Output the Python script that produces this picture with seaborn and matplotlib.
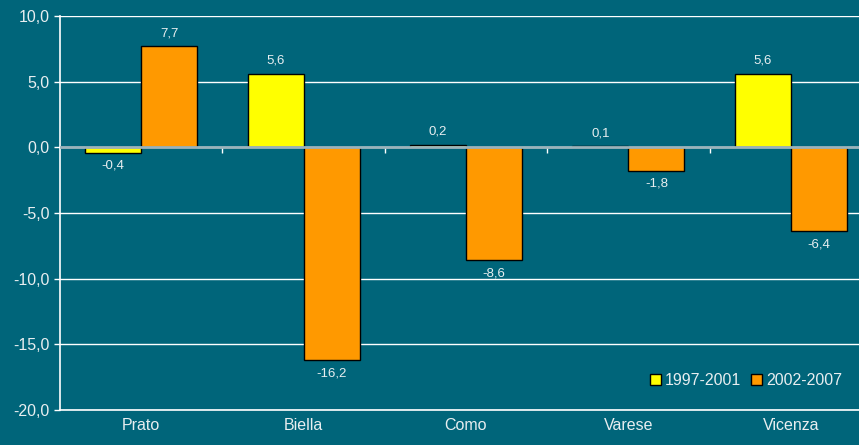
import pandas as pd
import matplotlib.pyplot as plt
import seaborn as sns

# data
cities = ['Prato', 'Biella', 'Como', 'Varese', 'Vicenza']
periods = ['1997-2001', '2002-2007']
vals_9701 = [-0.4, 5.6, 0.2, 0.1, 5.6]
vals_0207 = [7.7, -16.2, -8.6, -1.8, -6.4]
y_ticks = [-20, -15, -10, -5, 0, 5, 10]

bg = '#00657a'
txt = '#e8eef0'

df = pd.DataFrame({
    'Città': cities * 2,
    'Periodo': [periods[0]] * len(cities) + [periods[1]] * len(cities),
    'Valore': vals_9701 + vals_0207,
})

sns.set_theme(style='white')
plt.rcParams['font.family'] = ['Liberation Sans', 'DejaVu Sans']

fig = plt.figure(figsize=(8.59, 4.45), dpi=100, facecolor=bg)
# l'area del grafico prosegue oltre il bordo destro
ax = fig.add_axes([0.0698, 0.0787, 0.9453, 0.8853])
ax.set_facecolor(bg)

sns.barplot(
    data=df, x='Città', y='Valore', hue='Periodo',
    palette=['#ffff00', '#ff9900'], saturation=1,
    width=0.69, gap=0, edgecolor='black', linewidth=1,
    ax=ax, zorder=2
)

# etichette valori
for cont in ax.containers:
    labels = [f'{v:.1f}'.replace('.', ',') for v in cont.datavalues]
    ax.bar_label(cont, labels=labels, padding=5, color=txt, fontsize=9.5)

ax.set_ylim(-20, 10)
ax.set_yticks(y_ticks)
ax.set_yticklabels([f'{v:.1f}'.replace('.', ',') for v in y_ticks])
ax.set_xlim(-0.5, len(cities) - 0.5)
ax.grid(axis='y', color='white', linewidth=1, zorder=0)
ax.set_axisbelow(True)

for s in ['top', 'right']:
    ax.spines[s].set_visible(False)
for s in ['left', 'bottom']:
    ax.spines[s].set_color('white')
    ax.spines[s].set_linewidth(1.2)

ax.tick_params(axis='y', colors='white', labelcolor=txt, labelsize=11.5,
               length=4, direction='out', left=True, width=1)
ax.tick_params(axis='x', labelcolor=txt, labelsize=11.5, length=0, pad=6)
ax.set_xlabel('')
ax.set_ylabel('')

# linea dello zero con tacche
ax.axhline(0, color='#9ab3bb', linewidth=2, zorder=3)
zero = ax.secondary_xaxis(20 / 30)
for s in zero.spines.values():
    s.set_visible(False)
zero.set_xticks([i + 0.5 for i in range(len(cities) - 1)])
zero.set_xticklabels([''] * (len(cities) - 1))
zero.tick_params(length=4, color='white', width=1, direction='in')

leg = ax.legend(loc='lower right', bbox_to_anchor=(0.971, 0.04), frameon=False,
                ncol=2, fontsize=11.5, handlelength=0.7, handleheight=0.7,
                handletextpad=0.25, columnspacing=0.6, borderaxespad=0)
for t in leg.get_texts():
    t.set_color(txt)

plt.savefig('out.png', dpi=100, facecolor=bg)
